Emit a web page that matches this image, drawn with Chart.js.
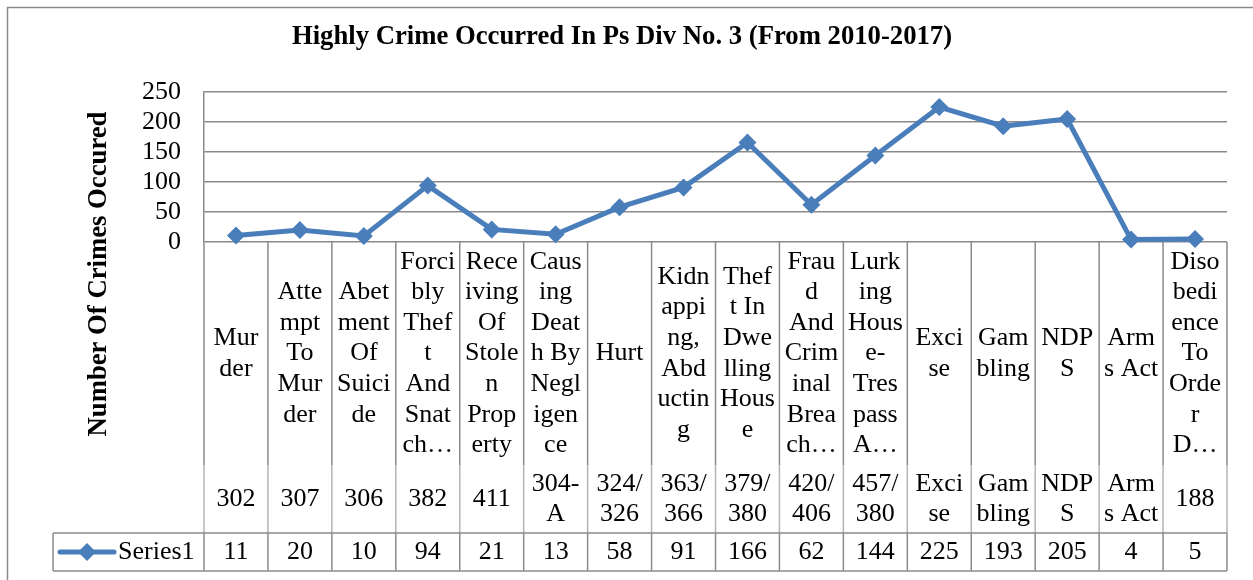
<!DOCTYPE html>
<html>
<head>
<meta charset="utf-8">
<script src="https://cdn.jsdelivr.net/npm/chart.js@4/dist/chart.umd.min.js"></script>
<style>
html,body{margin:0;padding:0;background:#fff;}
#wrap{width:1253px;height:580px;position:relative;}
</style>
</head>
<body>
<div id="wrap"><canvas id="c" width="1253" height="580"></canvas></div>
<script>
const chartTitle = "Highly Crime Occurred In Ps Div No. 3 (From 2010-2017)";
const yAxisTitle = "Number Of Crimes Occured";
const seriesName = "Series1";
const categoryLines = [
  ["Mur","der"],
  ["Atte","mpt","To","Mur","der"],
  ["Abet","ment","Of","Suici","de"],
  ["Forci","bly","Thef","t","And","Snat","ch\u2026"],
  ["Rece","iving","Of","Stole","n","Prop","erty"],
  ["Caus","ing","Deat","h By","Negl","igen","ce"],
  ["Hurt"],
  ["Kidn","appi","ng,","Abd","uctin","g"],
  ["Thef","t In","Dwe","lling","Hous","e"],
  ["Frau","d","And","Crim","inal","Brea","ch\u2026"],
  ["Lurk","ing","Hous","e-","Tres","pass","A\u2026"],
  ["Exci","se"],
  ["Gam","bling"],
  ["NDP","S"],
  ["Arm","s Act"],
  ["Diso","bedi","ence","To","Orde","r","D\u2026"]
];
const codeLines = [
  ["302"],["307"],["306"],["382"],["411"],["304-","A"],["324/","326"],
  ["363/","366"],["379/","380"],["420/","406"],["457/","380"],
  ["Exci","se"],["Gam","bling"],["NDP","S"],["Arm","s Act"],["188"]
];
const seriesValues = [11,20,10,94,21,13,58,91,166,62,144,225,193,205,4,5];
const yMin = 0, yMax = 250, yStep = 50;

const FONT = '"Liberation Serif","Times New Roman",serif';
const LINE_COLOR = '#4A7EBB';
const GRID = '#8a8a8a';

function diamond(ctx, cx, cy, r){
  ctx.beginPath();
  ctx.moveTo(cx, cy - r); ctx.lineTo(cx + r, cy); ctx.lineTo(cx, cy + r); ctx.lineTo(cx - r, cy);
  ctx.closePath(); ctx.fill();
}

const tablePlugin = {
  id: 'tablePlugin',
  beforeDatasetsDraw(chart){
    const ctx = chart.ctx, xs = chart.scales.x, a = chart.chartArea;
    const n = chart.data.labels.length;
    const half = (xs.getPixelForValue(1) - xs.getPixelForValue(0)) / 2;
    const top = a.bottom, codeTop = top + 223, rowTop = top + 291, rowBot = top + 329;
    const legendLeft = 53;
    ctx.save();
    ctx.strokeStyle = GRID; ctx.lineWidth = 1.5;
    ctx.strokeRect(7.5, 7.5, 1300, 640);
    for (let i = 0; i <= n; i++){
      const xp = (i < n ? xs.getPixelForValue(i) - half : xs.getPixelForValue(n - 1) + half);
      ctx.strokeStyle = GRID;
      ctx.beginPath(); ctx.moveTo(xp, top); ctx.lineTo(xp, codeTop); ctx.stroke();
      ctx.strokeStyle = '#b4b4b4';
      ctx.beginPath(); ctx.moveTo(xp, codeTop); ctx.lineTo(xp, rowTop); ctx.stroke();
      ctx.strokeStyle = GRID;
      ctx.beginPath(); ctx.moveTo(xp, rowTop); ctx.lineTo(xp, rowBot); ctx.stroke();
    }
    const right = xs.getPixelForValue(n - 1) + half;
    ctx.strokeStyle = GRID;
    ctx.beginPath();
    ctx.moveTo(legendLeft, rowTop); ctx.lineTo(right, rowTop);
    ctx.moveTo(legendLeft, rowBot); ctx.lineTo(right, rowBot);
    ctx.moveTo(legendLeft, rowTop); ctx.lineTo(legendLeft, rowBot);
    ctx.stroke();
    ctx.restore();
  },
  afterDraw(chart){
    const ctx = chart.ctx, xs = chart.scales.x, a = chart.chartArea;
    const n = chart.data.labels.length;
    const top = a.bottom, codeTop = top + 223, rowTop = top + 291, rowBot = top + 329;
    const lh = 30.6;
    ctx.save();
    ctx.fillStyle = '#000';
    ctx.font = 'bold 26.7px ' + FONT;
    ctx.textAlign = 'center'; ctx.textBaseline = 'alphabetic';
    ctx.fillText(chartTitle, 622, 44);
    ctx.save();
    ctx.translate(106, 274); ctx.rotate(-Math.PI/2);
    ctx.fillText(yAxisTitle, 0, 0);
    ctx.restore();
    ctx.font = '26px ' + FONT;
    ctx.textBaseline = 'middle'; ctx.textAlign = 'center';
    const catMid = (top + codeTop) / 2, codeMid = (codeTop + rowTop) / 2, valMid = (rowTop + rowBot) / 2;
    for (let i = 0; i < n; i++){
      const cx = xs.getPixelForValue(i);
      const cl = chart.data.labels[i];
      cl.forEach((t, k) => ctx.fillText(t, cx, catMid - (cl.length - 1) * lh / 2 + k * lh));
      const co = codeLines[i];
      co.forEach((t, k) => ctx.fillText(t, cx, codeMid - (co.length - 1) * lh / 2 + k * lh));
      ctx.fillText(String(chart.data.datasets[0].data[i]), cx, valMid);
    }
    ctx.strokeStyle = LINE_COLOR; ctx.lineWidth = 5; ctx.lineCap = 'round';
    ctx.beginPath(); ctx.moveTo(60, valMid); ctx.lineTo(114, valMid); ctx.stroke();
    ctx.fillStyle = LINE_COLOR; diamond(ctx, 87, valMid, 9);
    ctx.fillStyle = '#000'; ctx.textAlign = 'left';
    ctx.fillText(seriesName, 118, valMid);
    ctx.restore();
  }
};

new Chart(document.getElementById('c'), {
  type: 'line',
  data: {
    labels: categoryLines,
    datasets: [{
      label: seriesName,
      data: seriesValues,
      borderColor: LINE_COLOR,
      backgroundColor: LINE_COLOR,
      borderWidth: 5,
      pointStyle: 'rectRot',
      pointRadius: 9,
      pointHoverRadius: 9,
      pointBorderWidth: 0,
      tension: 0,
      clip: false
    }]
  },
  options: {
    responsive: false,
    animation: false,
    events: [],
    layout: { padding: { top: 92, left: 7, right: 26, bottom: 338 } },
    plugins: { legend: { display: false }, title: { display: false }, tooltip: { enabled: false } },
    scales: {
      x: { type: 'category', display: false, offset: true },
      y: {
        min: yMin, max: yMax,
        afterFit(scale){ scale.width = 197; },
        ticks: { stepSize: yStep, autoSkip: false, color: '#000', font: { family: FONT, size: 26 }, padding: 23 },
        grid: { color: GRID, lineWidth: 1.5, drawTicks: false },
        border: { display: true, color: GRID, width: 1.5 }
      }
    }
  },
  plugins: [tablePlugin]
});
</script>
</body>
</html>
